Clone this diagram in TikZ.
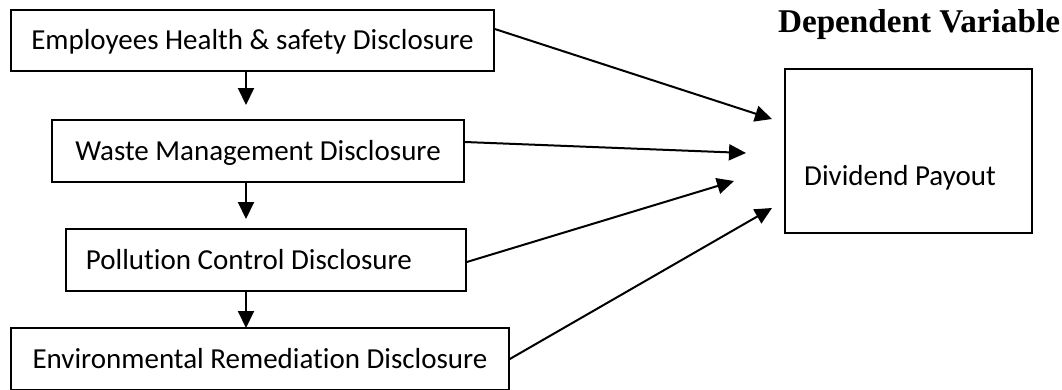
\documentclass[tikz,border=0pt]{standalone}
\usepackage{fontspec}
\setmainfont{Carlito}[Ligatures=NoCommon]
\newfontfamily\titlefont{Liberation Serif}
\usetikzlibrary{arrows.meta}
\begin{document}
\begin{tikzpicture}[x=1pt,y=-1pt,
  box/.style={draw, line width=1.6pt, inner sep=0pt, text height=18.7pt, text depth=0pt,
    font=\fontsize{29}{34}\selectfont},
  lbl/.style={inner sep=0pt, text height=18.7pt, text depth=0pt, font=\fontsize{29}{34}\selectfont},
  arr/.style={line width=2pt, -{Triangle[length=17pt,width=16pt]}}]
\useasboundingbox (0,0) rectangle (1062,389);
\node[box, minimum width=483pt, minimum height=61pt] (b1) at (252.5,40.5) {Employees Health \& safety Disclosure};
\node[box, minimum width=412pt, minimum height=62pt] (b2) at (258,151) {Waste Management Disclosure};
\node[box, minimum width=400pt, minimum height=62pt] (b3) at (266,260) {Pollution Control Disclosure\kern34pt};
\node[box, minimum width=498pt, minimum height=62pt] (b4) at (260,359) {Environmental Remediation Disclosure};
\node[draw, line width=1.6pt, minimum width=247pt, minimum height=164pt, inner sep=0pt] (dv) at (908.5,151) {};
\node[lbl] (dvt) at (900,176) {Dividend Payout};
\node[inner sep=0pt, anchor=base, font=\titlefont\bfseries\fontsize{33.2}{38}\selectfont] (title) at (919,32) {Dependent Variable};
\coordinate (v1) at (246,105);
\coordinate (v2) at (246,219);
\coordinate (v3) at (246,328);
\coordinate (t1) at (772,119);
\coordinate (t2) at (746,153);
\coordinate (t3) at (734,181);
\coordinate (t4) at (772,208);
\draw[arr] (b1.south -| v1) -- (v1);
\draw[arr] (b2.south -| v2) -- (v2);
\draw[arr] (b3.south -| v3) -- (v3);
\draw[arr] ([yshift=11.5pt]b1.east) -- (t1);
\draw[arr] ([yshift=9pt]b2.east) -- (t2);
\draw[arr] ([yshift=-2pt]b3.east) -- (t3);
\draw[arr] (b4.east) -- (t4);
\end{tikzpicture}
\end{document}
